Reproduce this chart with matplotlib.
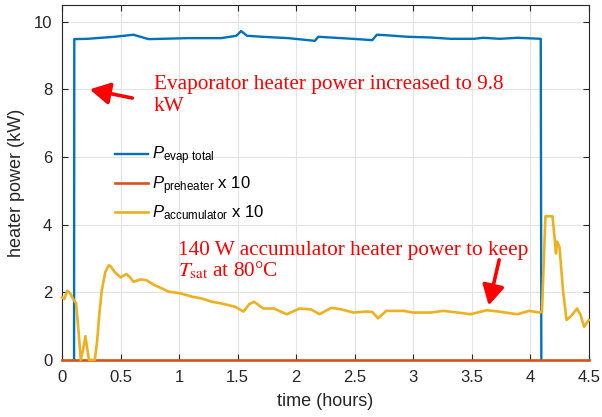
import matplotlib
matplotlib.use('Agg')
import matplotlib.pyplot as plt
from matplotlib.font_manager import FontProperties

plt.rcParams['font.family'] = ['Liberation Sans', 'DejaVu Sans']
plt.rcParams['mathtext.fontset'] = 'custom'
plt.rcParams['mathtext.rm'] = 'Liberation Sans'
plt.rcParams['mathtext.it'] = 'Liberation Sans:italic'

# evaporator heater total power (kW), on from ~0.1 h to ~4.1 h
t_evap = [0.103, 0.105, 0.22, 0.45, 0.61, 0.74, 1.08, 1.36, 1.49, 1.53, 1.58,
          1.71, 1.93, 2.16, 2.19, 2.48, 2.65, 2.69, 2.75, 2.95, 3.14, 3.32, 3.52,
          3.60, 3.74, 3.89, 4.09, 4.095]
p_evap = [0.0, 9.49, 9.50, 9.56, 9.62, 9.49, 9.52, 9.52, 9.59, 9.73, 9.59,
          9.56, 9.52, 9.44, 9.56, 9.50, 9.46, 9.62, 9.61, 9.56, 9.54, 9.50, 9.50,
          9.53, 9.50, 9.53, 9.50, 0.0]

# preheater power x 10
t_pre = [0.0, 4.5]
p_pre = [0.0, 0.0]

# accumulator heater power x 10
t_acc = [0.00, 0.02, 0.045, 0.07, 0.10, 0.12, 0.14, 0.16, 0.18, 0.20, 0.215, 0.23,
         0.28, 0.30, 0.32, 0.34, 0.37, 0.40, 0.42, 0.45, 0.50, 0.55, 0.58, 0.61,
         0.67, 0.72, 0.79, 0.85, 0.91, 1.01, 1.11, 1.19, 1.28, 1.36, 1.48, 1.55,
         1.60, 1.64, 1.72, 1.81, 1.92, 2.03, 2.13, 2.20, 2.30, 2.38, 2.49, 2.60,
         2.65, 2.70, 2.77, 2.92, 3.00, 3.15, 3.26, 3.38, 3.49, 3.63, 3.75, 3.89,
         3.99, 4.08, 4.10, 4.13, 4.19, 4.21, 4.22, 4.23, 4.25, 4.28, 4.31, 4.35,
         4.40, 4.43, 4.46, 4.50]
p_acc = [1.85, 1.80, 2.05, 1.97, 1.77, 1.68, 0.90, 0.00, 0.30, 0.70, 0.35, 0.00,
         0.00, 0.55, 1.40, 2.06, 2.60, 2.80, 2.75, 2.60, 2.44, 2.54, 2.45, 2.31,
         2.38, 2.36, 2.21, 2.12, 2.02, 1.97, 1.87, 1.82, 1.72, 1.67, 1.57, 1.43,
         1.65, 1.72, 1.52, 1.52, 1.35, 1.52, 1.49, 1.35, 1.54, 1.50, 1.40, 1.43,
         1.42, 1.23, 1.45, 1.45, 1.40, 1.40, 1.45, 1.40, 1.35, 1.47, 1.42, 1.35,
         1.45, 1.40, 1.42, 4.25, 4.25, 3.54, 3.15, 3.50, 3.34, 2.06, 1.18, 1.30,
         1.52, 1.33, 0.98, 1.18]

labels = [r'$P_{\mathrm{evap\ total}}$',
          r'$P_{\mathrm{preheater}}$ x 10',
          r'$P_{\mathrm{accumulator}}$ x 10']
x_ticks = [0, 0.5, 1, 1.5, 2, 2.5, 3, 3.5, 4, 4.5]
x_ticklabels = ['0', '0.5', '1', '1.5', '2', '2.5', '3', '3.5', '4', '4.5']
y_ticks = [0, 2, 4, 6, 8, 10]

fig = plt.figure(figsize=(6.02, 4.17), dpi=100)
ax = fig.add_axes([0.103, 0.137, 0.875, 0.851])

# lines sit on the axes edge at zero, so they are not clipped there
ax.plot(t_evap, p_evap, color='#0072BD', lw=1.7, label=labels[0], clip_on=False, zorder=3)
ax.plot(t_pre, p_pre, color='#D95319', lw=1.9, label=labels[1], clip_on=False, zorder=3)
ax.plot(t_acc, p_acc, color='#EDB120', lw=1.9, label=labels[2], clip_on=False, zorder=3)

ax.set_xlim(0, 4.5)
ax.set_ylim(0, 10.5)
ax.set_xticks(x_ticks)
ax.set_xticklabels(x_ticklabels)
ax.set_yticks(y_ticks)
ax.grid(True, color='#e3e3e3', lw=0.8)
ax.set_axisbelow(True)
ax.tick_params(direction='in', top=True, right=True, length=4, width=0.8,
               labelsize=12, colors='#262626', pad=7)
for sp in ax.spines.values():
    sp.set_color('#262626')
    sp.set_linewidth(0.8)
ax.set_xlabel('time (hours)', fontsize=13, color='#262626', labelpad=6)
ax.set_ylabel('heater power (kW)', fontsize=13, color='#262626', labelpad=6)

leg_font = FontProperties(family='Liberation Sans', size=12, math_fontfamily='custom')
ax.legend(loc='upper left', bbox_to_anchor=(0.10, 0.606), frameon=False, prop=leg_font,
          borderpad=0, borderaxespad=0, handlelength=2.0, handletextpad=0.25,
          labelspacing=0.4)

red_font = dict(family='Liberation Serif', size=15.3, color='red')
head = '-|>,head_length=0.6,head_width=0.33'
# baseline of the second line ("kW")
ax.text(0.786, 7.37, 'Evaporator heater power increased to 9.8\nkW', va='baseline',
        ha='left', linespacing=1.2, **red_font)
ax.annotate('', xy=(0.214, 8.02), xytext=(0.624, 7.73),
            arrowprops=dict(arrowstyle=head, mutation_scale=20, lw=2.6, color='red'))
ax.text(0.99, 3.10, '140 W accumulator heater power to keep', va='baseline',
        ha='left', **red_font)
ax.text(0.99, 2.46, r'$T_{\mathrm{sat}}$ at 80°C', va='baseline', ha='left',
        math_fontfamily='stix', **red_font)
ax.annotate('', xy=(3.64, 1.53), xytext=(3.74, 3.04),
            arrowprops=dict(arrowstyle=head, mutation_scale=20, lw=2.6, color='red'))

fig.savefig('out.png', dpi=100)
